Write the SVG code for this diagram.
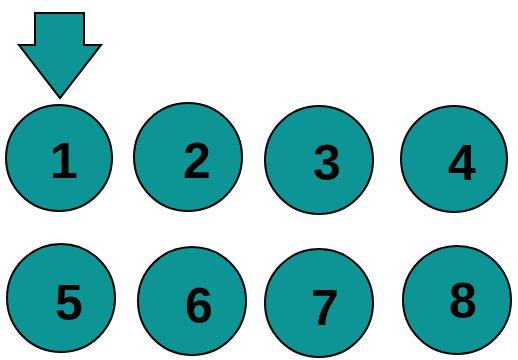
<svg xmlns="http://www.w3.org/2000/svg" width="518" height="360" viewBox="0 0 518 360">
<style>
.c{fill:#0d9595;stroke:#000;stroke-width:2}
.t{font-family:"Liberation Sans",Arial,sans-serif;font-weight:bold;font-size:50px;fill:#000;text-anchor:middle}
</style>
<rect width="518" height="360" fill="#fff"/>
<g id="arrow"><polygon class="c" points="35,13 84,13 84,45 101,45 60,98 19,45 35,45"/></g>
<g id="n1"><circle class="c" cx="59" cy="158" r="53"/><text class="t" x="64" y="178">1</text></g>
<g id="n2"><circle class="c" cx="188" cy="157" r="54"/><text class="t" x="197" y="178">2</text></g>
<g id="n3"><circle class="c" cx="319" cy="160" r="54"/><text class="t" x="327" y="180">3</text></g>
<g id="n4"><circle class="c" cx="454" cy="159" r="53"/><text class="t" x="462" y="180">4</text></g>
<g id="n5"><circle class="c" cx="61" cy="298" r="54"/><text class="t" x="69" y="320">5</text></g>
<g id="n6"><circle class="c" cx="192" cy="301" r="54"/><text class="t" x="199" y="323">6</text></g>
<g id="n7"><circle class="c" cx="319" cy="303" r="54"/><text class="t" x="325" y="325">7</text></g>
<g id="n8"><circle class="c" cx="457" cy="300" r="54"/><text class="t" x="463" y="318">8</text></g>
<g id="connectors"/>
</svg>
